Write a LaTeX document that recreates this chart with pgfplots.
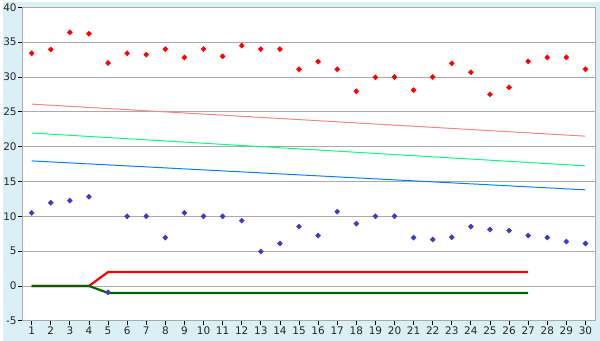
\documentclass[border=0pt]{standalone}
\usepackage{pgfplots}
\pgfplotsset{compat=1.18}
\usepackage{fontspec}
\setmainfont{DejaVu Sans}
\definecolor{bgblue}{HTML}{DAEFF6}
\definecolor{gridgray}{HTML}{AAAAAA}
\definecolor{ptblue}{HTML}{3A3ACC}
\definecolor{tpink}{HTML}{FF8080}
\definecolor{tgreen}{HTML}{00FF80}
\definecolor{tblue}{HTML}{0080FF}
\definecolor{dgreen}{HTML}{006400}
\begin{document}
\begin{tikzpicture}[x=1pt,y=1pt]
\fill[bgblue] (-19.5,-20) rectangle (580.5,320);
\begin{axis}[
  at={(0,0)}, anchor=south west,
  scale only axis, width=575.5pt, height=315pt,
  xmin=0.5, xmax=30.5, ymin=-5, ymax=40,
  xtick={1,...,30}, ytick={-5,0,...,40},
  ymajorgrids, grid style={gridgray, line width=0.8pt},
  axis line style={gridgray, line width=1pt},
  axis background/.style={fill=white},
  tick align=outside, xtick pos=bottom, ytick pos=left,
  major tick length=4.5pt,
  tick style={black, line width=0.8pt},
  tick label style={font=\fontsize{10.5}{12}\selectfont, text=black!85},
  /pgf/number format/assume math mode=true,
  xticklabel style={yshift=2pt},
  yticklabel style={xshift=2.5pt},
  clip=false,
]
% trend lines
\addplot[tpink, line width=1pt] coordinates {(1,26.1) (30,21.5)};
\addplot[tgreen, line width=1pt] coordinates {(1,21.95) (30,17.24)};
\addplot[tblue, line width=1pt] coordinates {(1,17.95) (30,13.8)};
% step lines
\addplot[red, line width=2.2pt] coordinates {(1,0) (4,0) (5,2) (27,2)};
\addplot[dgreen, line width=2.2pt] coordinates {(1,0) (4,0) (5,-1) (27,-1)};
% red points
\addplot[only marks, mark=diamond*, mark size=2.6pt, mark options={xscale=1.3}, red] coordinates {
(1,33.4) (2,33.95) (3,36.4) (4,36.2) (5,32.0) (6,33.4) (7,33.2) (8,34.0) (9,32.8) (10,34.0)
(11,32.95) (12,34.5) (13,34.0) (14,34.0) (15,31.1) (16,32.2) (17,31.1) (18,27.95) (19,29.95) (20,30.0)
(21,28.1) (22,30.0) (23,31.95) (24,30.67) (25,27.5) (26,28.5) (27,32.24) (28,32.8) (29,32.8) (30,31.1)};
% blue points
\addplot[only marks, mark=diamond*, mark size=2.6pt, mark options={xscale=1.3}, ptblue] coordinates {
(1,10.5) (2,11.95) (3,12.24) (4,12.8) (5,-0.9) (6,10.0) (7,10.0) (8,6.95) (9,10.5) (10,10.0)
(11,10.0) (12,9.38) (13,4.95) (14,6.1) (15,8.52) (16,7.24) (17,10.67) (18,8.95) (19,10.0) (20,10.0)
(21,6.95) (22,6.67) (23,7.0) (24,8.52) (25,8.1) (26,7.95) (27,7.24) (28,6.95) (29,6.38) (30,6.1)};
\end{axis}
\end{tikzpicture}
\end{document}
